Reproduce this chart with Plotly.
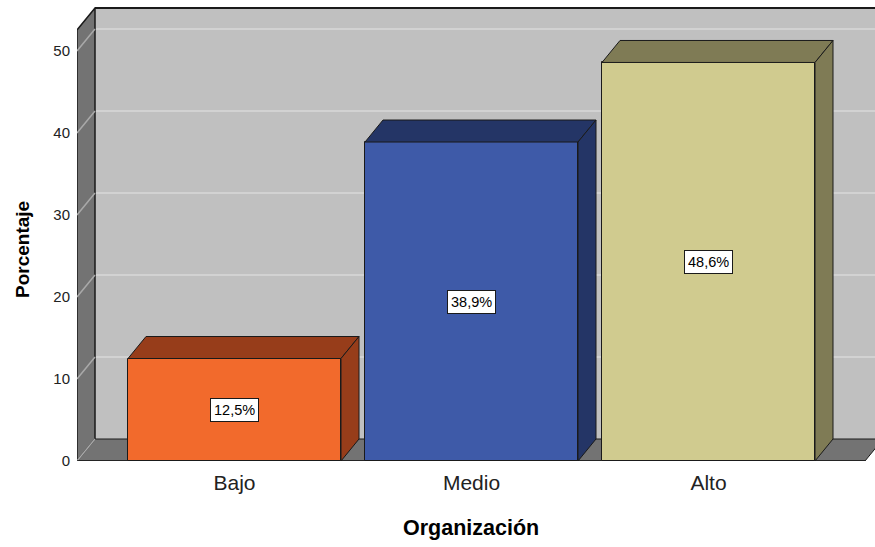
import plotly.graph_objects as go

# datos
categorias = ["Bajo", "Medio", "Alto"]
porcentajes = [12.5, 38.9, 48.6]
etiquetas = ["12,5%", "38,9%", "48,6%"]
ticks_y = [0, 10, 20, 30, 40, 50]

colores_frente = ["#f26a2c", "#3e5aa8", "#d0cb8f"]
colores_sombra = ["#973d1a", "#243566", "#7f7b55"]

# geometria (pixeles -> unidades de datos)
W, H = 875, 547
ML, MR, MT, MB = 77, 0, 7, 86
PX_X = 237.0          # px por categoria
PX_Y = 8.2            # px por punto porcentual
X_MIN = -157.5 / PX_X
X_MAX = X_MIN + (W - ML - MR) / PX_X
Y_MAX = (H - MB - MT) / PX_Y
DX = 18 / PX_X        # profundidad 3d
DY = 22 / PX_Y
BAR_W = 213 / PX_X
WALL_TOP = (H - MB - 8) / PX_Y   # borde superior de la pared del fondo

PARED = "#c0c0c0"
LATERAL = "#737373"
REJILLA = "#d2d2d2"
BORDE = "#1a1a1a"
FUENTE = "Liberation Sans, Arial"

fig = go.Figure()

# caras frontales
fig.add_trace(go.Bar(
    x=list(range(len(categorias))),
    y=porcentajes,
    width=BAR_W,
    marker=dict(color=colores_frente, line=dict(color=BORDE, width=1)),
    hoverinfo="skip",
    showlegend=False,
))

# caras superior y lateral de cada barra
for i, v in enumerate(porcentajes):
    xl, xr = i - BAR_W / 2, i + BAR_W / 2
    fig.add_trace(go.Scatter(
        x=[xl, xl + DX, xr + DX, xr, xl],
        y=[v, v + DY, v + DY, v, v],
        fill="toself", fillcolor=colores_sombra[i], mode="lines",
        line=dict(color=BORDE, width=1), hoverinfo="skip", showlegend=False,
    ))
    fig.add_trace(go.Scatter(
        x=[xr, xr + DX, xr + DX, xr, xr],
        y=[v, v + DY, DY, 0, v],
        fill="toself", fillcolor=colores_sombra[i], mode="lines",
        line=dict(color=BORDE, width=1), hoverinfo="skip", showlegend=False,
    ))

shapes = []
# pared del fondo
shapes.append(dict(type="rect", xref="x", yref="y", layer="below",
                   x0=X_MIN + DX, x1=X_MAX + 1, y0=DY, y1=WALL_TOP,
                   fillcolor=PARED, line=dict(width=0)))
for t in ticks_y[1:]:
    shapes.append(dict(type="line", xref="x", yref="y", layer="below",
                       x0=X_MIN + DX, x1=X_MAX + 1, y0=t + DY, y1=t + DY,
                       line=dict(color=REJILLA, width=2)))
shapes.append(dict(type="line", xref="x", yref="y", layer="below",
                   x0=X_MIN + DX, x1=X_MAX + 1, y0=WALL_TOP, y1=WALL_TOP,
                   line=dict(color=BORDE, width=2)))
# suelo
floor_end = X_MIN + 788 / PX_X
shapes.append(dict(type="path", xref="x", yref="y", layer="below",
                   path=f"M {X_MIN},0 L {X_MIN + DX},{DY} L {floor_end + DX},{DY} L {floor_end},0 Z",
                   fillcolor=LATERAL, line=dict(color=BORDE, width=1)))
# pared lateral
shapes.append(dict(type="path", xref="x", yref="y", layer="below",
                   path=f"M {X_MIN},0 L {X_MIN},{WALL_TOP - DY} L {X_MIN + DX},{WALL_TOP} "
                        f"L {X_MIN + DX},{DY} Z",
                   fillcolor=LATERAL, line=dict(color=BORDE, width=1.5)))
for t in ticks_y:
    shapes.append(dict(type="line", xref="x", yref="y", layer="below",
                       x0=X_MIN, x1=X_MIN + DX, y0=t, y1=t + DY,
                       line=dict(color="#a9a9a9", width=1.5)))
shapes.append(dict(type="line", xref="x", yref="y", layer="below",
                   x0=X_MIN, x1=floor_end, y0=0, y1=0,
                   line=dict(color=BORDE, width=1.5)))

annotations = []
for i, v in enumerate(porcentajes):
    annotations.append(dict(
        x=i, y=v / 2, xref="x", yref="y", text=etiquetas[i], showarrow=False,
        bgcolor="white", bordercolor=BORDE, borderwidth=1, borderpad=3,
        font=dict(family=FUENTE, size=14.5, color="black"),
    ))
annotations.append(dict(
    text="<b>Organización</b>", xref="paper", yref="paper",
    x=(471 - ML) / (W - ML - MR), y=-(528 - (H - MB)) / (H - MB - MT),
    xanchor="center", yanchor="middle",
    showarrow=False, font=dict(family=FUENTE, size=21.5, color="black"),
))
annotations.append(dict(
    text="<b>Porcentaje</b>", xref="paper", yref="paper", textangle=-90,
    x=(22 - ML) / (W - ML - MR), y=((H - MB) - 250) / (H - MB - MT),
    xanchor="center", yanchor="middle",
    showarrow=False, font=dict(family=FUENTE, size=19, color="black"),
))

fig.update_layout(
    width=W, height=H,
    margin=dict(l=ML, r=MR, t=MT, b=MB),
    paper_bgcolor="white", plot_bgcolor="white",
    shapes=shapes, annotations=annotations,
    bargap=0,
    xaxis=dict(range=[X_MIN, X_MAX], tickvals=list(range(len(categorias))),
               ticktext=categorias, showgrid=False, zeroline=False, showline=False,
               ticks="", ticklabelstandoff=7,
               tickfont=dict(family=FUENTE, size=21, color="#222")),
    yaxis=dict(range=[0, Y_MAX], tickvals=ticks_y, showgrid=False, zeroline=False,
               showline=False, ticks="", ticklabelstandoff=6,
               tickfont=dict(family=FUENTE, size=15, color="#222")),
)

# sin margen en el body para que la figura ocupe la ventana desde (0, 0)
fig.write_html("out.html", config={"displayModeBar": False},
               post_script="document.body.style.margin='0';")
